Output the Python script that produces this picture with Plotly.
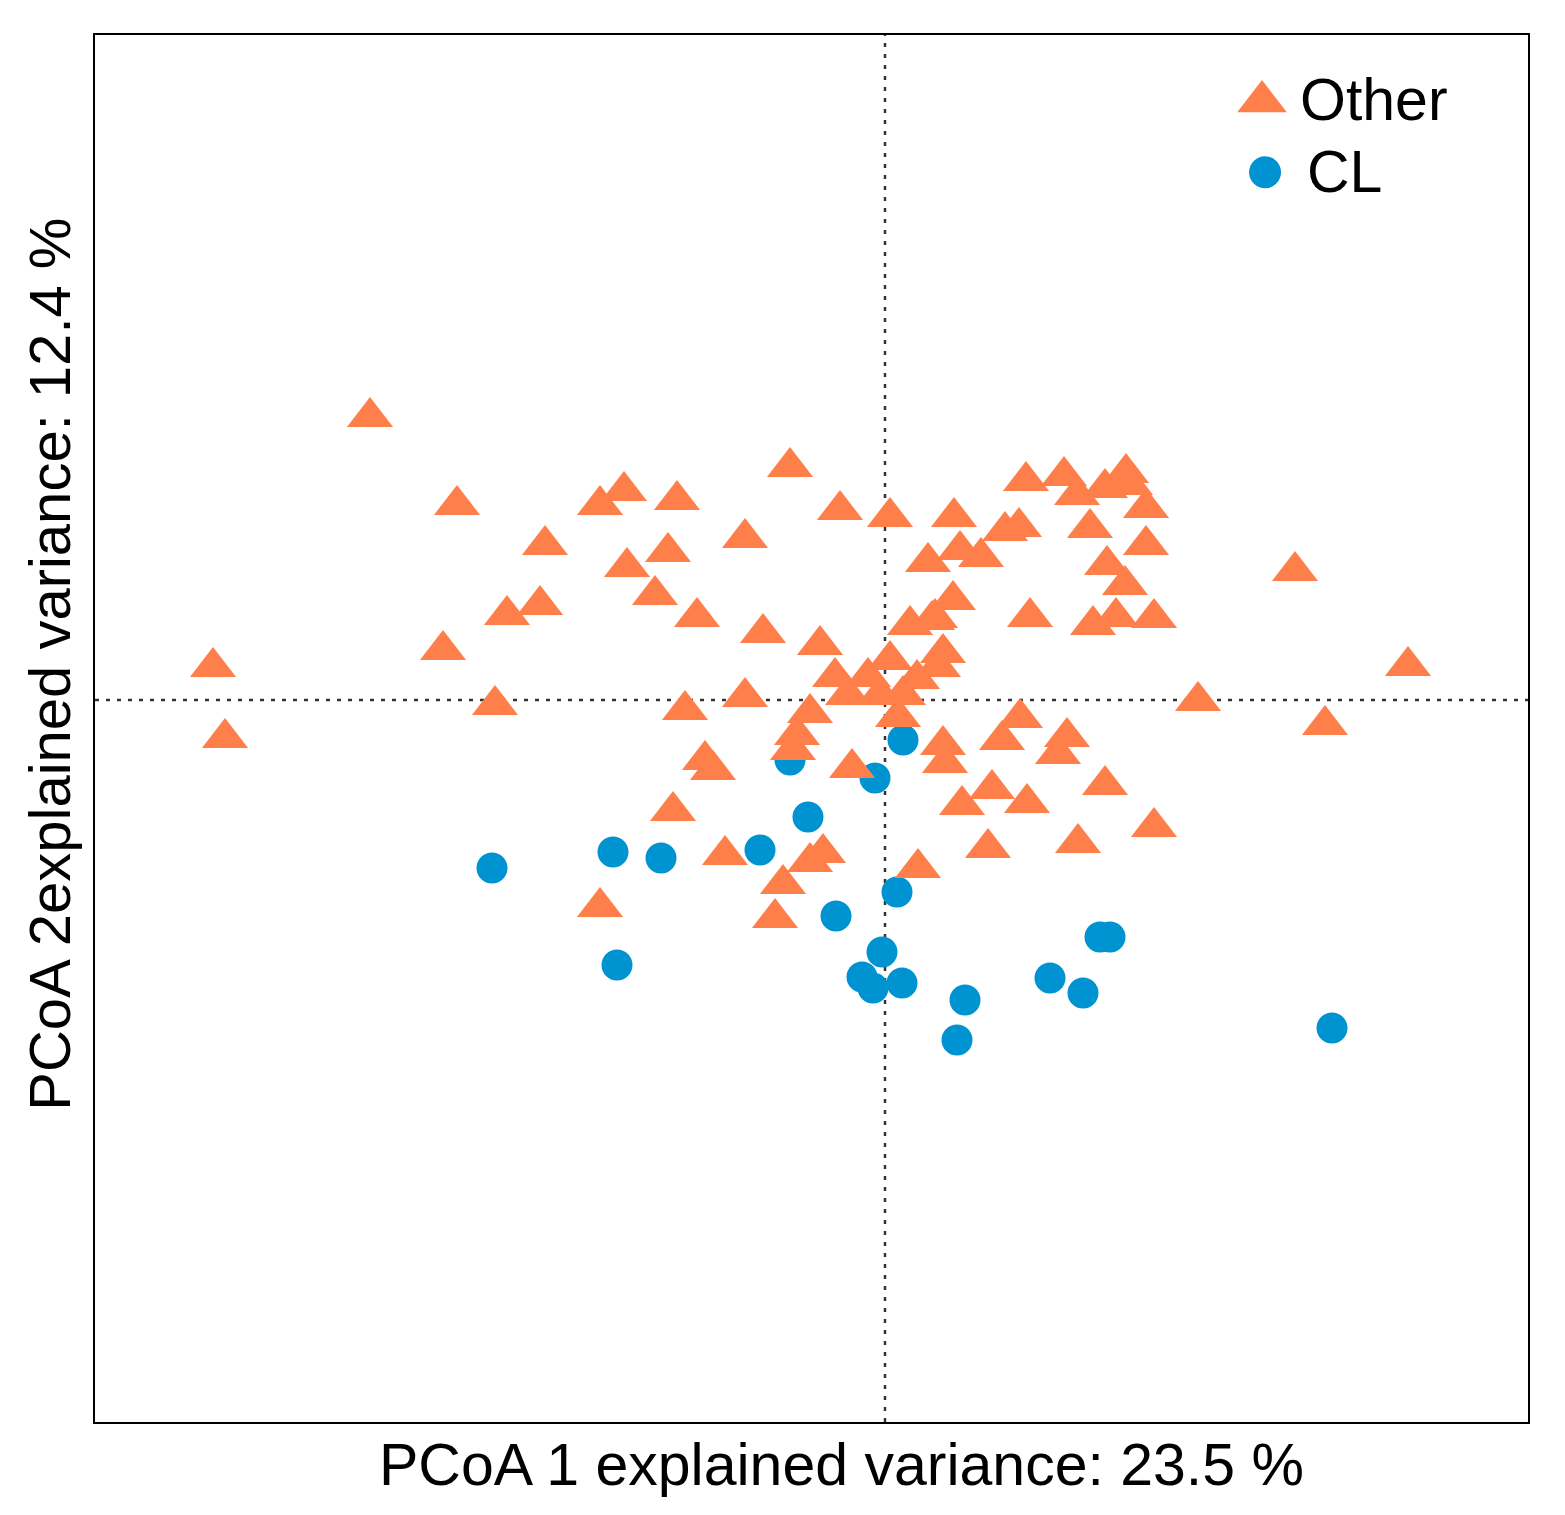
import plotly.graph_objects as go

# PCoA scores (Other = triangles, CL = circles)
other_x = [-0.515, -0.428, -0.340, -0.285, -0.261, -0.258, -0.230, -0.208, -0.217, -0.345,
           -0.378, -0.442, -0.672, -0.660, -0.390, -0.095, -0.140, -0.045, 0.005, -0.188,
           -0.122, -0.200, -0.140, -0.065, -0.050, -0.037, -0.017, 0.005, 0.025, 0.047,
           0.058, 0.053, 0.032, 0.018, 0.013, -0.005, -0.075, -0.088, -0.092, -0.033,
           0.058, 0.060, -0.180, -0.172, -0.212, -0.160, -0.062, -0.075, -0.102, -0.110,
           -0.285, 0.033, 0.069, 0.075, 0.096, 0.120, 0.134, 0.043, 0.141, 0.179,
           0.192, 0.220, 0.241, 0.245, 0.261, 0.261, 0.205, 0.222, 0.240, 0.145,
           0.208, 0.231, 0.269, 0.068, 0.050, 0.410, 0.523, 0.313, 0.440, 0.135,
           0.117, 0.182, 0.173, 0.107, 0.077, 0.142, 0.220, 0.269, 0.103, 0.193]
other_y = [0.283, 0.195, 0.155, 0.195, 0.209, 0.133, 0.105, 0.200, 0.148, 0.095,
           0.085, 0.050, 0.033, -0.038, -0.005, 0.233, 0.162, 0.190, 0.183, 0.083,
           0.067, -0.010, 0.003, 0.055, 0.023, 0.005, 0.023, 0.040, 0.075, 0.080,
           0.047, 0.033, 0.021, 0.005, -0.017, 0.005, -0.013, -0.035, -0.050, -0.068,
           -0.045, -0.063, -0.060, -0.070, -0.111, -0.155, -0.153, -0.162, -0.184, -0.218,
           -0.207, -0.168, 0.183, 0.150, 0.143, 0.169, 0.173, 0.138, 0.219, 0.224,
           0.205, 0.212, 0.227, 0.215, 0.192, 0.155, 0.172, 0.135, 0.115, 0.083,
           0.075, 0.083, 0.082, 0.100, 0.082, 0.129, 0.034, -0.001, -0.025, -0.018,
           -0.040, -0.037, -0.054, -0.089, -0.105, -0.103, -0.085, -0.127, -0.148, -0.143]

cl_x = [-0.393, -0.272, -0.224, -0.268, -0.125, -0.077, -0.095, -0.010, 0.018, 0.012, -0.049,
        -0.003, -0.023, -0.012, 0.017, 0.080, 0.072, 0.165, 0.198, 0.215, 0.225, 0.447]
cl_y = [-0.168, -0.152, -0.158, -0.265, -0.150, -0.117, -0.060, -0.078, -0.040, -0.192, -0.216,
        -0.252, -0.277, -0.288, -0.283, -0.300, -0.340, -0.278, -0.293, -0.237, -0.237, -0.328]

grupos = ['Other', 'CL']
colores = {'Other': '#FF7F4A', 'CL': '#0093D2'}
titulo_x = 'PCoA 1 explained variance: 23.5 %'
titulo_y = 'PCoA 2explained variance: 12.4 %'

rango_x = [-0.790, 0.643]
rango_y = [-0.722, 0.665]

fuente = 'Liberation Sans, Arial, sans-serif'

fig = go.Figure()

fig.add_trace(go.Scatter(x=cl_x, y=cl_y, mode='markers', name='CL',
                         marker=dict(symbol='circle', size=31, color=colores['CL'], opacity=1)))
fig.add_trace(go.Scatter(x=other_x, y=other_y, mode='markers', name='Other',
                         marker=dict(symbol='triangle-up', size=40, color=colores['Other'], opacity=1)))

# leyenda hecha a mano (plotly limita el tamaño de los símbolos de la leyenda)
leyenda_px = [0.8144, 0.8165]
leyenda_py = [0.952, 0.901]
simbolos = {'Other': ('triangle-up', 43), 'CL': ('circle', 32)}
for nombre, px, py in zip(grupos, leyenda_px, leyenda_py):
    xd = rango_x[0] + px * (rango_x[1] - rango_x[0])
    yd = rango_y[0] + py * (rango_y[1] - rango_y[0])
    fig.add_trace(go.Scatter(x=[xd], y=[yd], mode='markers', hoverinfo='skip',
                             marker=dict(symbol=simbolos[nombre][0], size=simbolos[nombre][1],
                                         color=colores[nombre], opacity=1)))

for nombre, xl, yl in zip(grupos, [0.8395, 0.8444], [0.953, 0.901]):
    fig.add_annotation(text=nombre, xref='paper', yref='paper', x=xl, y=yl,
                       xanchor='left', yanchor='middle', showarrow=False,
                       font=dict(family=fuente, size=59, color='black'))

# titulos de ejes
fig.add_annotation(text=titulo_x, xref='paper', yref='paper', x=0.521, y=-0.031,
                   xanchor='center', yanchor='middle', showarrow=False,
                   font=dict(family=fuente, size=59, color='black'))
fig.add_annotation(text=titulo_y, xref='paper', yref='paper', x=-0.0314, y=0.546,
                   xanchor='center', yanchor='middle', showarrow=False, textangle=-90,
                   font=dict(family=fuente, size=58, color='black'))

# lineas punteadas en cero
fig.add_shape(type='line', xref='x', yref='paper', x0=0, x1=0, y0=0, y1=1, layer='below',
              line=dict(color='#333333', width=2.5, dash='4px,7px'))
fig.add_shape(type='line', xref='paper', yref='y', x0=0, x1=1, y0=0, y1=0, layer='below',
              line=dict(color='#333333', width=2.5, dash='4px,7px'))

ejes = dict(showticklabels=False, ticks='', showgrid=False, zeroline=False,
            showline=True, mirror=True, linecolor='black', linewidth=2)

# el body del html tiene 8px de margen
fig.update_layout(width=1549, height=1499,
                  margin=dict(l=87, r=29, t=27, b=85),
                  plot_bgcolor='white', paper_bgcolor='white',
                  showlegend=False,
                  xaxis=dict(range=rango_x, **ejes),
                  yaxis=dict(range=rango_y, **ejes))

fig.write_html("out.html")
